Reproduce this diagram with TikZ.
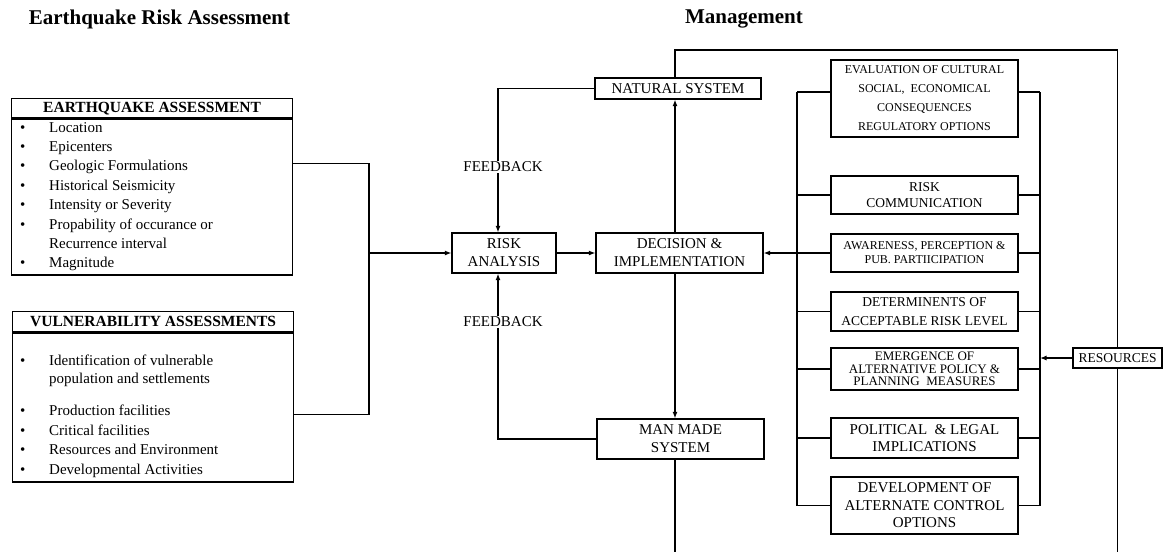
\documentclass[tikz,border=0pt]{standalone}
\usepackage{fontspec}
\setmainfont{Liberation Serif}
\usetikzlibrary{arrows.meta}
\newcommand\bodysize{\fontsize{15}{18}\selectfont}
\newcommand\itm[1]{\makebox[29pt][l]{\textbullet}#1}
\tikzset{
  >={Latex[length=6.5pt,width=5pt]},
  link/.style={line width=1.2pt, draw=black},
  flow/.style={link, ->},
  box/.style={
    draw=black,
    line width=1.3pt,
    fill=white,
    align=center,
    inner sep=1pt,
    font=\bodysize
  },
  headbox/.style={box, font=\bfseries\fontsize{15.5}{18}\selectfont,
    minimum width=281pt, minimum height=19pt, anchor=north west},
  listbox/.style={draw=black, line width=1.3pt, minimum width=281pt, anchor=north west},
  itemtext/.style={anchor=west, inner sep=0pt, font=\bodysize, text height=10pt, text depth=3pt},
  titletext/.style={font=\bfseries\fontsize{21}{24}\selectfont, inner sep=0pt},
  fbtext/.style={font=\bodysize, fill=white, inner sep=1pt},
  rightbox/.style={box, minimum width=187pt}
}
\begin{document}
\begin{tikzpicture}[x=1pt,y=-1pt]
\useasboundingbox (0,0) rectangle (1166,552);
\coordinate (ceil) at (0,50);
\coordinate (floor) at (0,552);
\coordinate (join) at (369,253);
\coordinate (spine) at (675,0);
\coordinate (lbar) at (797,0);
\coordinate (rbar) at (1040,0);

% headings
\node[titletext] (eqtitle) at (159.5,19) {Earthquake Risk Assessment};
\node[titletext] (mgmttitle) at (744,19) {Management};

% assessment lists
\node[headbox] (eqhead) at (11,98) {EARTHQUAKE ASSESSMENT};
\node[listbox, minimum height=156pt] (eqbody) at (eqhead.south west) {};
\foreach \y/\t [count=\i] in {129/Location,148/Epicenters,167/Geologic Formulations,
  187/Historical Seismicity,206/Intensity or Severity,226/Propability of occurance or,264/Magnitude}
  \node[itemtext] (eq\i) at (20,\y) {\itm{\t}};
\node[itemtext] (eqcont) at (49,245) {Recurrence interval};

\node[headbox, minimum height=20pt] (vhead) at (12,311) {VULNERABILITY ASSESSMENTS};
\node[listbox, minimum height=149pt] (vbody) at (vhead.south west) {};
\foreach \y/\t [count=\i] in {362/Identification of vulnerable,412/Production facilities,
  432/Critical facilities,451/Resources and Environment,471/Developmental Activities}
  \node[itemtext] (vu\i) at (20,\y) {\itm{\t}};
\node[itemtext] (vucont) at (49,380) {population and settlements};

% centre column
\node[box, minimum width=104pt, minimum height=40pt] (risk) at (504,253) {RISK\\ANALYSIS};
\node[box, minimum width=167pt, minimum height=40pt] (decision) at (679.5,253) {DECISION \&\\IMPLEMENTATION};
\node[box, minimum width=166pt, minimum height=21pt] (natural) at (678,88.5) {NATURAL SYSTEM};
\node[box, minimum width=167pt, minimum height=40pt] (manmade) at (680.5,439) {MAN MADE\\SYSTEM};
\node[box, minimum width=89pt, minimum height=20pt, font=\fontsize{13.5}{16}\selectfont] (resources) at (1117.5,358) {RESOURCES};

% management options
\node[rightbox, minimum height=77pt, font=\fontsize{12}{19}\selectfont] (evaluation) at (924.5,98.5)
  {EVALUATION OF CULTURAL\\SOCIAL,\ \ ECONOMICAL\\CONSEQUENCES\\REGULATORY OPTIONS};
\node[rightbox, minimum height=38pt, font=\fontsize{13.5}{16.5}\selectfont] (riskcomm) at (924.5,195)
  {RISK\\COMMUNICATION};
\node[rightbox, minimum height=38pt, font=\fontsize{12}{14}\selectfont] (awareness) at (924.5,253)
  {AWARENESS, PERCEPTION \&\\PUB. PARTIICIPATION};
\node[rightbox, minimum height=39pt, font=\fontsize{13.5}{19}\selectfont] (determinents) at (924.5,311.5)
  {DETERMINENTS OF\\ACCEPTABLE RISK LEVEL};
\node[rightbox, minimum height=42pt, font=\fontsize{13}{12.5}\selectfont] (emergence) at (924.5,369)
  {EMERGENCE OF\\ALTERNATIVE POLICY \&\\PLANNING\ \ MEASURES};
\node[rightbox, minimum height=40pt, font=\fontsize{15}{17}\selectfont] (political) at (924.5,438)
  {POLITICAL\ \ \& LEGAL\\IMPLICATIONS};
\node[rightbox, minimum height=57pt, font=\fontsize{15}{17.5}\selectfont] (development) at (924.5,505.5)
  {DEVELOPMENT OF\\ALTERNATE CONTROL\\OPTIONS};

% connectors
\draw[link] (eqbody.north east) ++(0,45) -| (join);
\draw[link] (vbody.north east) ++(0,82) -| (join);
\draw[flow] (join) -- (risk.west);
\draw[flow] (risk.east) -- (decision.west);
\draw[flow] (decision.north -| spine) -- (natural.south -| spine);
\draw[flow] (decision.south -| spine) -- (manmade.north -| spine);
\draw[flow] (natural.west) -| ([xshift=-6pt]risk.north);
\draw[flow] (manmade.west) -| ([xshift=-6pt]risk.south);
\node[fbtext] (fbup) at (503,167) {FEEDBACK};
\node[fbtext] (fbdown) at (503,322) {FEEDBACK};
\draw[link] (natural.north -| spine) |- (resources.north |- ceil) -- (resources.north);
\draw[link] (resources.south) -- (resources.south |- floor);
\draw[link] (manmade.south -| spine) -- (spine |- floor);

\draw[link] ([yshift=6.5pt]evaluation.west -| lbar) -- (development.west -| lbar);
\draw[link] ([yshift=6.5pt]evaluation.east -| rbar) -- (development.east -| rbar);
\draw[link] ([yshift=6.5pt]evaluation.west) -- ([yshift=6.5pt]evaluation.west -| lbar);
\draw[link] ([yshift=6.5pt]evaluation.east) -- ([yshift=6.5pt]evaluation.east -| rbar);
\foreach \b in {riskcomm,awareness,determinents,emergence,political,development}{
  \draw[link] (\b.west) -- (\b.west -| lbar);
  \draw[link] (\b.east) -- (\b.east -| rbar);
}
\draw[flow] (awareness.west) -- (decision.east);
\draw[flow] (resources.west) -- (resources.west -| rbar);
\end{tikzpicture}
\end{document}
